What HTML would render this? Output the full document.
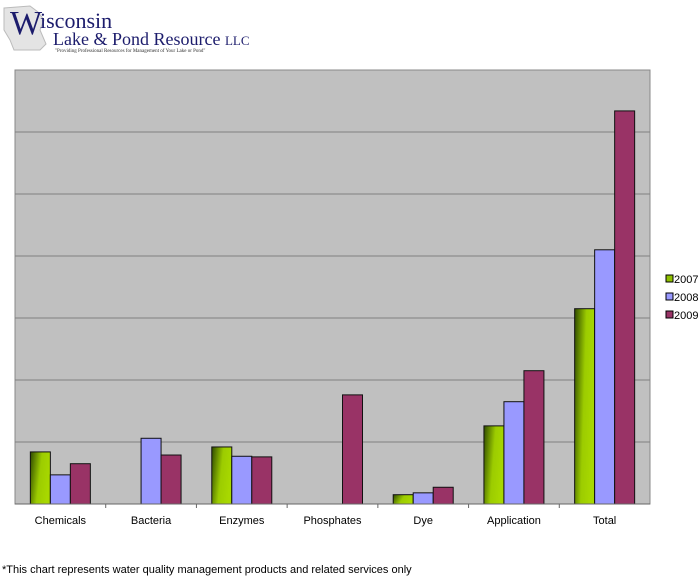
<!DOCTYPE html>
<html><head><meta charset="utf-8"><style>
body{margin:0;background:#fff;width:700px;height:578px;overflow:hidden;font-family:"Liberation Sans",sans-serif}
</style></head><body>
<svg width="700" height="578" xmlns="http://www.w3.org/2000/svg">
<defs>
<linearGradient id="g07" x1="0" x2="1" y1="0" y2="0.3">
<stop offset="0" stop-color="#2f4a00"/><stop offset="0.55" stop-color="#9ccc00"/><stop offset="1" stop-color="#a8d800"/>
</linearGradient>
</defs>
<g>
<path d="M4 8 L30 6 L38 12 L44 20 L40 30 L46 44 L40 50 L14 50 L10 40 L4 30 Z" fill="#e4e4e4" stroke="#bbb"/>
<text x="10" y="34" font-family="Liberation Serif,serif" font-size="34" fill="#1c1c6c">W</text>
<text x="40" y="28" font-family="Liberation Serif,serif" font-size="22" fill="#1c1c6c">isconsin</text>
<text x="53" y="45" font-family="Liberation Serif,serif" font-size="18" fill="#1c1c6c">Lake &amp; Pond Resource <tspan font-size="13">LLC</tspan></text>
<text x="55" y="52" font-family="Liberation Serif,serif" font-size="5" fill="#333">"Providing Professional Resources for Management of Your Lake or Pond"</text>
</g>
<rect x="15" y="70" width="635" height="434" fill="#c0c0c0" stroke="#888"/>
<g id="grid"></g><g id="bars"></g><g id="xlabels"></g>
<line x1="15" y1="504" x2="650" y2="504" stroke="#666"/>
<g font-size="11">
<rect x="666" y="275" width="7" height="7" fill="#8ec000" stroke="#000"/>
<text x="674" y="283">2007</text>
<rect x="666" y="293" width="7" height="7" fill="#9999ff" stroke="#000"/>
<text x="674" y="301">2008</text>
<rect x="666" y="311" width="7" height="7" fill="#993366" stroke="#000"/>
<text x="674" y="319">2009</text>
</g>
<text x="2" y="573" font-size="11">*This chart represents water quality management products and related services only</text>
</svg>
<script>
const categories=["Chemicals","Bacteria","Enzymes","Phosphates","Dye","Application","Total"];
const series2007=[0.84,0,0.92,0,0.15,1.26,3.15];
const series2008=[0.47,1.06,0.77,0,0.18,1.65,4.10];
const series2009=[0.65,0.79,0.76,1.76,0.27,2.15,6.34];
const yMax=7;
const NS="http://www.w3.org/2000/svg";
const L=15,R=650,T=70,B=504;
const cw=(R-L)/categories.length;
const y=v=>B-(v/yMax)*(B-T);
const xc=i=>L+cw*(i+0.5);
const grid=document.getElementById('grid');
for(let k=1;k<yMax;k++){const ln=document.createElementNS(NS,'line');
ln.setAttribute('x1',L);ln.setAttribute('x2',R);ln.setAttribute('y1',y(k));ln.setAttribute('y2',y(k));ln.setAttribute('stroke','#808080');


grid.appendChild(ln);}
const bars=document.getElementById('bars');
const ser=[[series2007,'url(#g07)','2007'],[series2008,'#9999ff','2008'],[series2009,'#993366','2009']];
const bw=20;
categories.forEach((c,i)=>{
 ser.forEach((s,j)=>{const v=s[0][i];if(!v)return;
  const r=document.createElementNS(NS,'rect');
  r.setAttribute('x',xc(i)-30+j*bw);r.setAttribute('width',bw);
  r.setAttribute('y',y(v));r.setAttribute('height',B-y(v));
  r.setAttribute('fill',s[1]);r.setAttribute('stroke','#111');r.setAttribute('stroke-width','1');
  
  
  bars.appendChild(r);});
 const t=document.createElementNS(NS,'text');
 t.setAttribute('x',xc(i));t.setAttribute('y',524);t.setAttribute('text-anchor','middle');t.setAttribute('font-size','11');
 t.textContent=c;
 
 
 document.getElementById('xlabels').appendChild(t);
 if(i>0){const tk=document.createElementNS(NS,'line');
 tk.setAttribute('x1',L+cw*i);tk.setAttribute('x2',L+cw*i);tk.setAttribute('y1',B);tk.setAttribute('y2',B+4);tk.setAttribute('stroke','#666');
 
 
 document.getElementById('xlabels').appendChild(tk);}
});
</script>
</body></html>
